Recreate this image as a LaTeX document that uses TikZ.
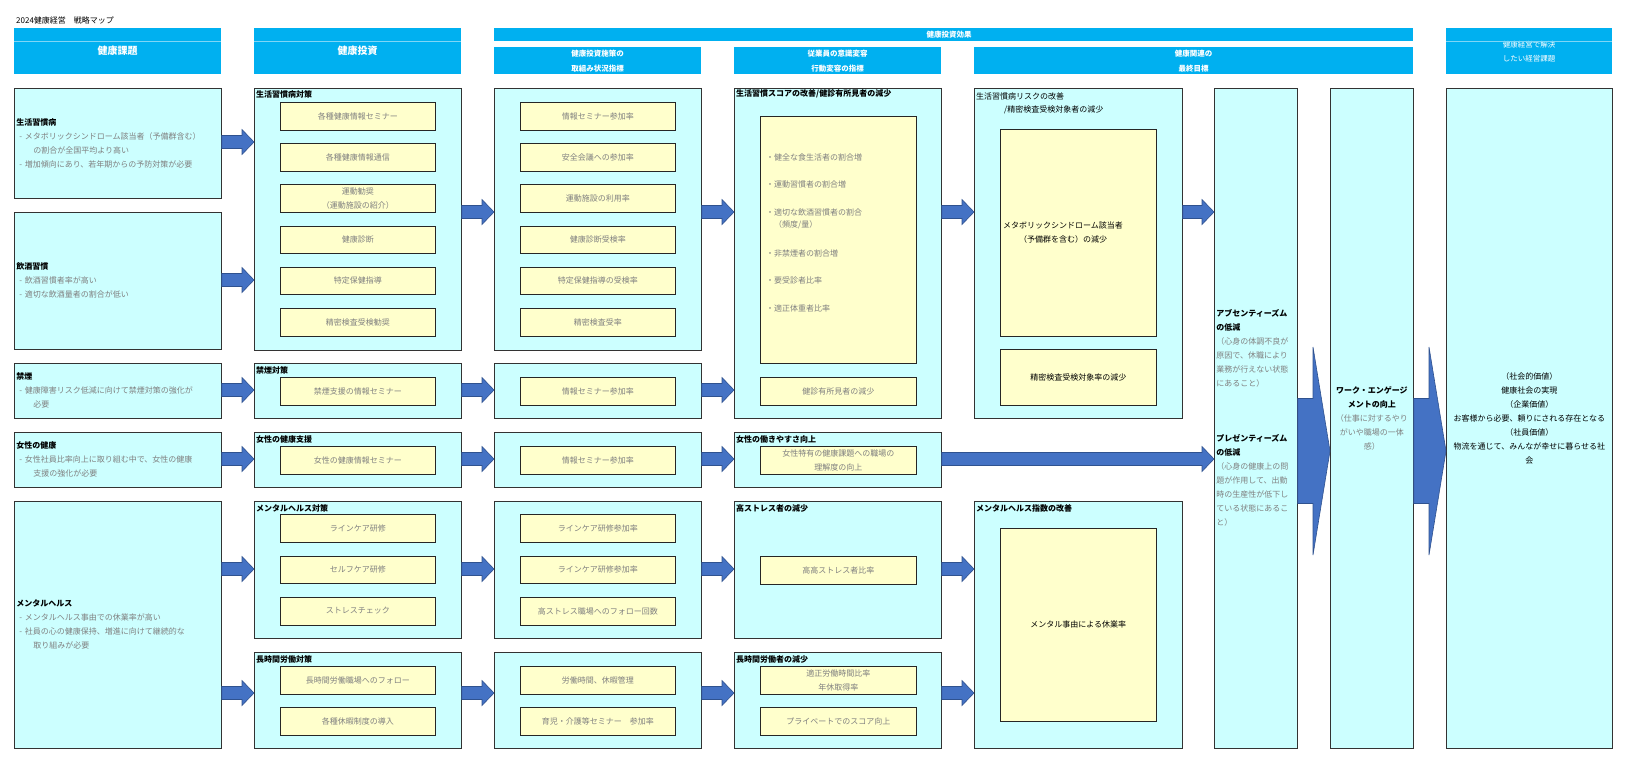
\documentclass[tikz,border=0pt]{standalone}
\usepackage{fontspec}
\setmainfont{Noto Sans CJK JP}
\usetikzlibrary{calc}
\definecolor{headblue}{HTML}{00B0F0}
\definecolor{bandline}{HTML}{7FD6F6}
\definecolor{panelcyan}{HTML}{CCFFFF}
\definecolor{kpiyellow}{HTML}{FFFFCC}
\definecolor{arrowblue}{HTML}{4472C4}
\definecolor{arrowedge}{HTML}{2F528F}
\definecolor{txtgray}{HTML}{808080}
\tikzset{
  bar/.style={fill=headblue, anchor=north west, inner sep=0pt, text=white, align=center, font=\bfseries\fontsize{10}{12}\selectfont},
  panel/.style={draw=black!80, fill=panelcyan, line width=0.7pt, anchor=north west, inner sep=2pt, align=left, text=txtgray, font=\fontsize{8}{14}\selectfont},
  kpi/.style={draw=black!85, fill=kpiyellow, line width=0.6pt, anchor=north west, minimum width=155, minimum height=27.5, inner sep=1pt, align=center, text=txtgray, font=\fontsize{8}{14}\selectfont},
  ttl/.style={anchor=west, inner sep=0pt, font=\bfseries\fontsize{8}{10}\selectfont},
  note/.style={anchor=west, inner sep=0pt, text=txtgray, font=\fontsize{8}{10}\selectfont},
}
\newcommand\bk[1]{\textcolor{black}{\textbf{#1}}}
% block arrow: from, to, y, shaft half, head half, head length
\newcommand\blockarrow[6]{%
  \path (#1.east |- 0,#3) coordinate (ba-s) (#2.west |- 0,#3) coordinate (ba-t);
  \filldraw[fill=arrowblue, draw=arrowedge, line width=0.6pt]
    let \p1=(ba-s), \p2=(ba-t) in
    (\x1,\y1+#4pt) -- (\x2-#6pt,\y1+#4pt) -- (\x2-#6pt,\y1+#5pt) -- (\x2,\y1)
    -- (\x2-#6pt,\y1-#5pt) -- (\x2-#6pt,\y1-#4pt) -- (\x1,\y1-#4pt) -- cycle;}
\newcommand\flowarrow[3]{\blockarrow{#1}{#2}{#3}{6.5}{12.5}{12}}
\begin{document}
\begin{tikzpicture}[x=1pt,y=-1pt]
\useasboundingbox (0,0) rectangle (1631,774);
\node[anchor=west, inner sep=0pt, font=\fontsize{8}{10}\selectfont] (title) at (16,20) {2024健康経営　戦略マップ};

% headers
\node[bar, minimum width=207, minimum height=46] (h-issue) at (14,28) {健康課題};
\node[bar, minimum width=207, minimum height=46] (h-invest) at (254,28) {健康投資};
\node[bar, minimum width=919, minimum height=13] (h-effect) at (494,28) {};
\node[bar, anchor=center, font=\bfseries\fontsize{7.5}{9}\selectfont] (h-effect-t) at (949,34.5) {健康投資効果};
\node[bar, minimum width=207, minimum height=27, font=\bfseries\fontsize{7.5}{15}\selectfont] (h-action) at (494,47) {健康投資施策の\\取組み状況指標};
\node[bar, minimum width=207, minimum height=27, font=\bfseries\fontsize{7.5}{15}\selectfont] (h-change) at (734,47) {従業員の意識変容\\行動変容の指標};
\node[bar, minimum width=439, minimum height=27, font=\bfseries\fontsize{7.5}{15}\selectfont] (h-final) at (974,47) {健康関連の\\最終目標};
\node[bar, minimum width=166, minimum height=46, font=\fontsize{7.5}{14}\selectfont] (h-goal) at (1446,28) {健康経営で解決\\したい経営課題};
\foreach \h in {h-issue, h-invest, h-goal}
  \draw[bandline, line width=0.5pt] (\h.west |- 0,41) -- (\h.east |- 0,41);

% 健康課題
\node[panel, text width=203pt, minimum height=110] (L1) at (14,88) {\bk{生活習慣病}\\\hspace*{3pt}- メタボリックシンドローム該当者（予備群含む）\\\hspace*{17pt}の割合が全国平均より高い\\\hspace*{3pt}- 増加傾向にあり、若年期からの予防対策が必要};
\node[panel, text width=203pt, minimum height=137] (L2) at (14,212) {\bk{飲酒習慣}\\\hspace*{3pt}- 飲酒習慣者率が高い\\\hspace*{3pt}- 適切な飲酒量者の割合が低い};
\node[panel, text width=203pt, minimum height=55] (L3) at (14,363) {\bk{禁煙}\\\hspace*{3pt}- 健康障害リスク低減に向けて禁煙対策の強化が\\\hspace*{17pt}必要};
\node[panel, text width=203pt, minimum height=55] (L4) at (14,432) {\bk{女性の健康}\\\hspace*{3pt}- 女性社員比率向上に取り組む中で、女性の健康\\\hspace*{17pt}支援の強化が必要};
\node[panel, text width=203pt, minimum height=247] (L5) at (14,501) {\bk{メンタルヘルス}\\\hspace*{3pt}- メンタルヘルス事由での休業率が高い\\\hspace*{3pt}- 社員の心の健康保持、増進に向けて継続的な\\\hspace*{17pt}取り組みが必要};

% 健康投資
\node[panel, minimum width=207, minimum height=262] (C1a) at (254,88) {};
\node[ttl] (C1a-t) at ([xshift=2pt,yshift=-6pt]C1a.north west) {生活習慣病対策};
\foreach \t [count=\i from 0] in {各種健康情報セミナー, 各種健康情報通信, {運動勧奨\\（運動施設の紹介）}, 健康診断, 特定保健指導, 精密検査受検勧奨}
  \node[kpi] (C1a-\i) at (280,{102+41.2*\i}) {\t};
\node[panel, minimum width=207, minimum height=55] (C1b) at (254,363) {};
\node[ttl] (C1b-t) at ([xshift=2pt,yshift=-7pt]C1b.north west) {禁煙対策};
\node[kpi] (C1b-0) at (280,377) {禁煙支援の情報セミナー};
\node[panel, minimum width=207, minimum height=55] (C1c) at (254,432) {};
\node[ttl] (C1c-t) at ([xshift=2pt,yshift=-7pt]C1c.north west) {女性の健康支援};
\node[kpi] (C1c-0) at (280,446) {女性の健康情報セミナー};
\node[panel, minimum width=207, minimum height=137] (C1d) at (254,501) {};
\node[ttl] (C1d-t) at ([xshift=2pt,yshift=-7pt]C1d.north west) {メンタルヘルス対策};
\foreach \t [count=\i from 0] in {ラインケア研修, セルフケア研修, ストレスチェック}
  \node[kpi] (C1d-\i) at (280,{514+41.5*\i}) {\t};
\node[panel, minimum width=207, minimum height=96] (C1e) at (254,652) {};
\node[ttl] (C1e-t) at ([xshift=2pt,yshift=-7pt]C1e.north west) {長時間労働対策};
\node[kpi] (C1e-0) at (280,666) {長時間労働職場へのフォロー};
\node[kpi] (C1e-1) at (280,707) {各種休暇制度の導入};

% 取組み状況指標
\node[panel, minimum width=207, minimum height=262] (C2a) at (494,88) {};
\foreach \t [count=\i from 0] in {情報セミナー参加率, 安全会議への参加率, 運動施設の利用率, 健康診断受検率, 特定保健指導の受検率, 精密検査受率}
  \node[kpi] (C2a-\i) at (520,{102+41.2*\i}) {\t};
\node[panel, minimum width=207, minimum height=55] (C2b) at (494,363) {};
\node[kpi] (C2b-0) at (520,377) {情報セミナー参加率};
\node[panel, minimum width=207, minimum height=55] (C2c) at (494,432) {};
\node[kpi] (C2c-0) at (520,446) {情報セミナー参加率};
\node[panel, minimum width=207, minimum height=137] (C2d) at (494,501) {};
\foreach \t [count=\i from 0] in {ラインケア研修参加率, ラインケア研修参加率, 高ストレス職場へのフォロー回数}
  \node[kpi] (C2d-\i) at (520,{514+41.5*\i}) {\t};
\node[panel, minimum width=207, minimum height=96] (C2e) at (494,652) {};
\node[kpi] (C2e-0) at (520,666) {労働時間、休暇管理};
\node[kpi] (C2e-1) at (520,707) {育児・介護等セミナー　参加率};

% 意識変容・行動変容
\node[panel, minimum width=207, minimum height=330] (C3a) at (734,88) {};
\node[ttl] (C3a-t) at ([xshift=2pt,yshift=-6pt]C3a.north west) {生活習慣スコアの改善/健診有所見者の減少};
\node[kpi, minimum width=156, minimum height=247] (C3a-0) at (760,116) {};
\foreach \y/\t in {157/・健全な食生活者の割合増, 184/・運動習慣者の割合増, 212/・適切な飲酒習慣者の割合, 225/{\hspace*{8pt}（頻度/量）}, 253/・非禁煙者の割合増, 280/・要受診者比率, 308/・適正体重者比率}
  \node[note] (C3a-l\y) at (766,\y) {\t};
\node[kpi, minimum width=156, minimum height=28] (C3a-1) at (760,377) {健診有所見者の減少};
\node[panel, minimum width=207, minimum height=55] (C3b) at (734,432) {};
\node[ttl] (C3b-t) at ([xshift=2pt,yshift=-7pt]C3b.north west) {女性の働きやすさ向上};
\node[kpi, minimum width=156] (C3b-0) at (760,446) {女性特有の健康課題への職場の\\理解度の向上};
\node[panel, minimum width=207, minimum height=137] (C3c) at (734,501) {};
\node[ttl] (C3c-t) at ([xshift=2pt,yshift=-7pt]C3c.north west) {高ストレス者の減少};
\node[kpi, minimum width=156] (C3c-0) at (760,556) {高高ストレス者比率};
\node[panel, minimum width=207, minimum height=96] (C3d) at (734,652) {};
\node[ttl] (C3d-t) at ([xshift=2pt,yshift=-7pt]C3d.north west) {長時間労働者の減少};
\node[kpi, minimum width=156] (C3d-0) at (760,666) {適正労働時間比率\\年休取得率};
\node[kpi, minimum width=156] (C3d-1) at (760,707) {プライベートでのスコア向上};

% 最終目標
\node[panel, minimum width=208, minimum height=330] (C4a) at (974,88) {};
\node[note, text=black] (C4a-t1) at (976,96) {生活習慣病リスクの改善};
\node[note, text=black] (C4a-t2) at (1004,110) {/精密検査受検対象者の減少};
\node[kpi, minimum width=156, minimum height=207] (C4a-0) at (1000,129) {};
\node[note, text=black] (C4a-l1) at (1003,225) {メタボリックシンドローム該当者};
\node[note, text=black] (C4a-l2) at (1019,239) {（予備群を含む）の減少};
\node[kpi, minimum width=156, minimum height=56, text=black] (C4a-1) at (1000,349) {精密検査受検対象率の減少};
\node[panel, minimum width=208, minimum height=247] (C4b) at (974,501) {};
\node[ttl] (C4b-t) at ([xshift=2pt,yshift=-7pt]C4b.north west) {メンタルヘルス指数の改善};
\node[kpi, minimum width=156, minimum height=193, text=black] (C4b-0) at (1000,528) {メンタル事由による休業率};

\node[panel, text width=79pt, minimum height=660] (colA) at (1214,88) {\bk{アブセンティーズム}\\\bk{の低減}\\（心身の体調不良が\\原因で、休職により\\業務が行えない状態\\にあること）\\[41pt]\bk{プレゼンティーズム}\\\bk{の低減}\\（心身の健康上の問\\題が作用して、出勤\\時の生産性が低下し\\ている状態にあるこ\\と）};
\node[panel, text width=79pt, minimum height=660, align=center] (colB) at (1330,88) {\bk{ワーク・エンゲージ}\\\bk{メントの向上}\\（仕事に対するやり\\がいや職場の一体\\感）};

% 経営課題
\node[panel, text width=162pt, minimum height=660, align=center, text=black] (goal) at (1446,88) {（社会的価値）\\健康社会の実現\\（企業価値）\\お客様から必要、頼りにされる存在となる\\（社員価値）\\物流を通じて、みんなが幸せに暮らせる社\\会};

% arrows
\foreach \a/\b/\y in {L1/C1a/142, L2/C1a/280, L3/C1b/390, L4/C1c/459, L5/C1d/569, L5/C1e/693,
    C1a/C2a/212, C1b/C2b/390, C1c/C2c/459, C1d/C2d/569, C1e/C2e/693,
    C2a/C3a/212, C2b/C3a/390, C2c/C3b/459, C2d/C3c/569, C2e/C3d/693,
    C3a/C4a/212, C3b/colA/459, C3c/C4b/569, C3d/C4b/693, C4a/colA/212}
  {\flowarrow{\a}{\b}{\y}}
\blockarrow{colA}{colB}{451}{52.5}{104}{17}
\blockarrow{colB}{goal}{451}{52.5}{104}{17}
\end{tikzpicture}
\end{document}
